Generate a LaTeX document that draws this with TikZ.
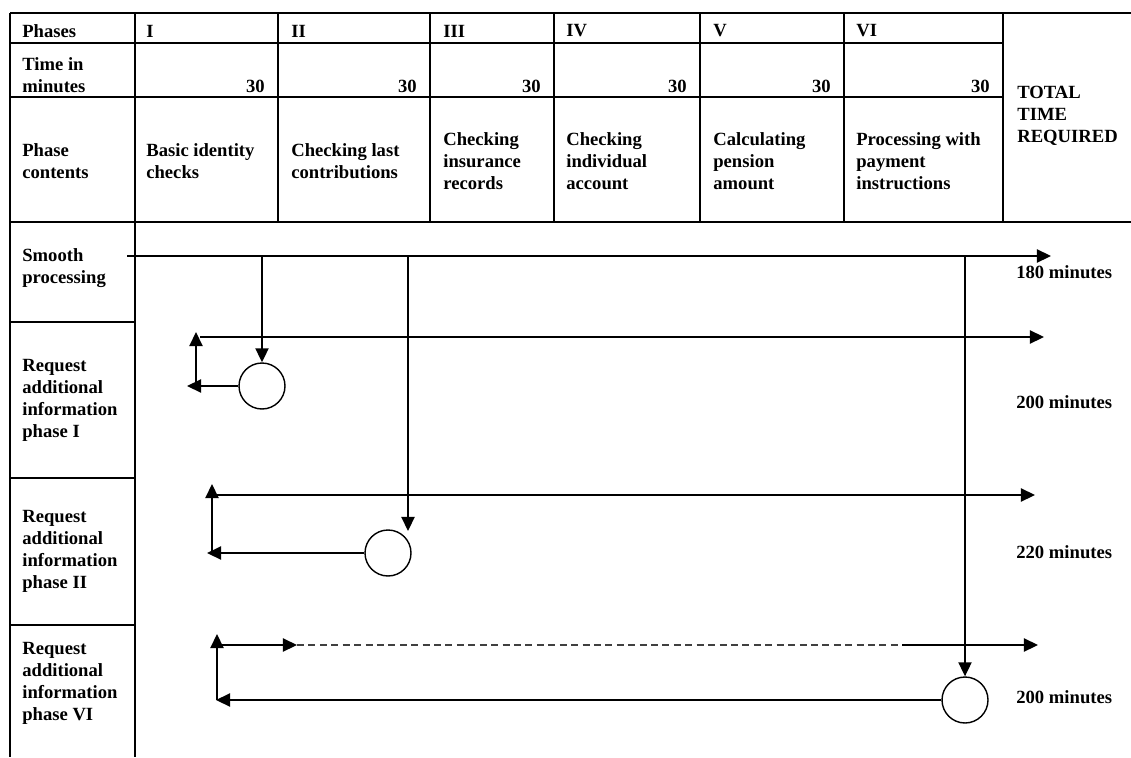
\documentclass[tikz,border=0pt]{standalone}
\usepackage{fontspec}
\setmainfont{Liberation Serif}
\usetikzlibrary{arrows.meta}

\begin{document}
\begin{tikzpicture}[x=0.02cm,y=-0.02cm,>={Triangle[length=8pt,width=7.5pt]},
  txt/.style={anchor=west,inner sep=0pt,align=left,font=\fontsize{10.6}{12.5}\selectfont\bfseries},
  num/.style={anchor=east,inner sep=0pt,font=\fontsize{10.6}{12.5}\selectfont\bfseries},
  grid/.style={line width=1.1pt},
  flow/.style={line width=0.9pt},
  stop/.style={circle,draw,line width=0.8pt,minimum size=0.92cm,inner sep=0pt}]
  \useasboundingbox (0,0) rectangle (1131,757);

  % table frame
  \draw[grid] (10,13) -- (1131,13);
  \draw[grid] (10,222) -- (1131,222);
  \draw[grid] (10,43) -- (1003,43);
  \draw[grid] (10,97) -- (1003,97);
  \draw[grid] (10,13) -- (10,757);
  \draw[grid] (135,13) -- (135,757);
  \draw[grid] (278,13) -- (278,222);
  \draw[grid] (430,13) -- (430,222);
  \draw[grid] (554,13) -- (554,222);
  \draw[grid] (700,13) -- (700,222);
  \draw[grid] (844,13) -- (844,222);
  \draw[grid] (1003,13) -- (1003,222);
  \draw[grid] (10,322) -- (135,322);
  \draw[grid] (10,478) -- (135,478);
  \draw[grid] (10,625) -- (135,625);

  % header
  \node[txt] (ph_0) at (22,31)  {Phases};
  \node[txt] (ph_1) at (146,31) {I};
  \node[txt] (ph_2) at (291,31) {II};
  \node[txt] (ph_3) at (443,31) {III};
  \node[txt] (ph_4) at (566,31) {IV};
  \node[txt] (ph_5) at (713,31) {V};
  \node[txt] (ph_6) at (856,31) {VI};

  \node[txt] (tm_0) at (22,75)  {Time in\\minutes};
  \node[num] (tm_1) at (265,86) {30};
  \node[num] (tm_2) at (417,86) {30};
  \node[num] (tm_3) at (541,86) {30};
  \node[num] (tm_4) at (687,86) {30};
  \node[num] (tm_5) at (831,86) {30};
  \node[num] (tm_6) at (990,86) {30};

  \node[txt] (ct_0) at (22,161)  {Phase\\contents};
  \node[txt] (ct_1) at (146,161) {Basic identity\\checks};
  \node[txt] (ct_2) at (291,161) {Checking last\\contributions};
  \node[txt] (ct_3) at (443,161) {Checking\\insurance\\records};
  \node[txt] (ct_4) at (566,161) {Checking\\individual\\account};
  \node[txt] (ct_5) at (713,161) {Calculating\\pension\\amount};
  \node[txt] (ct_6) at (856,161) {Processing with\\payment\\instructions};
  \node[txt] (tot)  at (1017,116) {TOTAL\\TIME\\REQUIRED};

  % rows
  \node[txt] (rw_0) at (22,268) {Smooth\\processing};
  \node[txt] (rw_1) at (22,400) {Request\\additional\\information\\phase I};
  \node[txt] (rw_2) at (22,551) {Request\\additional\\information\\phase II};
  \node[txt] (rw_6) at (22,683) {Request\\additional\\information\\phase VI};

  \node[txt] (mn_0) at (1016,272) {180 minutes};
  \node[txt] (mn_1) at (1016,402) {200 minutes};
  \node[txt] (mn_2) at (1016,552) {220 minutes};
  \node[txt] (mn_6) at (1016,697) {200 minutes};

  % stops
  \node[stop] (s_1) at (262,386) {};
  \node[stop] (s_2) at (388,553) {};
  \node[stop] (s_6) at (965,700) {};

  \coordinate (a_0) at (127,256);
  \coordinate (a_1) at (1051,256);
  \coordinate (d_1) at (262,256);
  \coordinate (d_2) at (408,256);
  \coordinate (w_2) at (408,531);
  \coordinate (d_6) at (965,256);

  \coordinate (b_1) at (187,386);
  \coordinate (u_1) at (196,386);
  \coordinate (v_1) at (196,332);
  \coordinate (e_1) at (200,337);
  \coordinate (f_1) at (1044,337);

  \coordinate (b_2) at (207,553);
  \coordinate (u_2) at (212,553);
  \coordinate (v_2) at (212,484);
  \coordinate (e_2) at (215,495);
  \coordinate (f_2) at (1035,495);

  \coordinate (b_6) at (216,700);
  \coordinate (u_6) at (217,700);
  \coordinate (v_6) at (217,634);
  \coordinate (e_6) at (220,645);
  \coordinate (g_6) at (297,645);
  \coordinate (k_6) at (902,645);
  \coordinate (f_6) at (1038,645);

  \draw[flow,->] (a_0) -- (a_1);
  \draw[flow,->] (d_1) -- (s_1);
  \draw[flow,->] (d_2) -- (w_2);
  \draw[flow,->] (d_6) -- (s_6);

  \draw[flow,->] (s_1) -- (b_1);
  \draw[flow,->] (u_1) -- (v_1);
  \draw[flow,->] (e_1) -- (f_1);

  \draw[flow,->] (s_2) -- (b_2);
  \draw[flow,->] (u_2) -- (v_2);
  \draw[flow,->] (e_2) -- (f_2);

  \draw[flow,->] (s_6) -- (b_6);
  \draw[flow,->] (u_6) -- (v_6);
  \draw[flow,->] (e_6) -- (g_6);
  \draw[flow,dashed,black!75,dash pattern=on 4pt off 2.5pt] (g_6) -- (k_6);
  \draw[flow,->] (k_6) -- (f_6);
\end{tikzpicture}
\end{document}
